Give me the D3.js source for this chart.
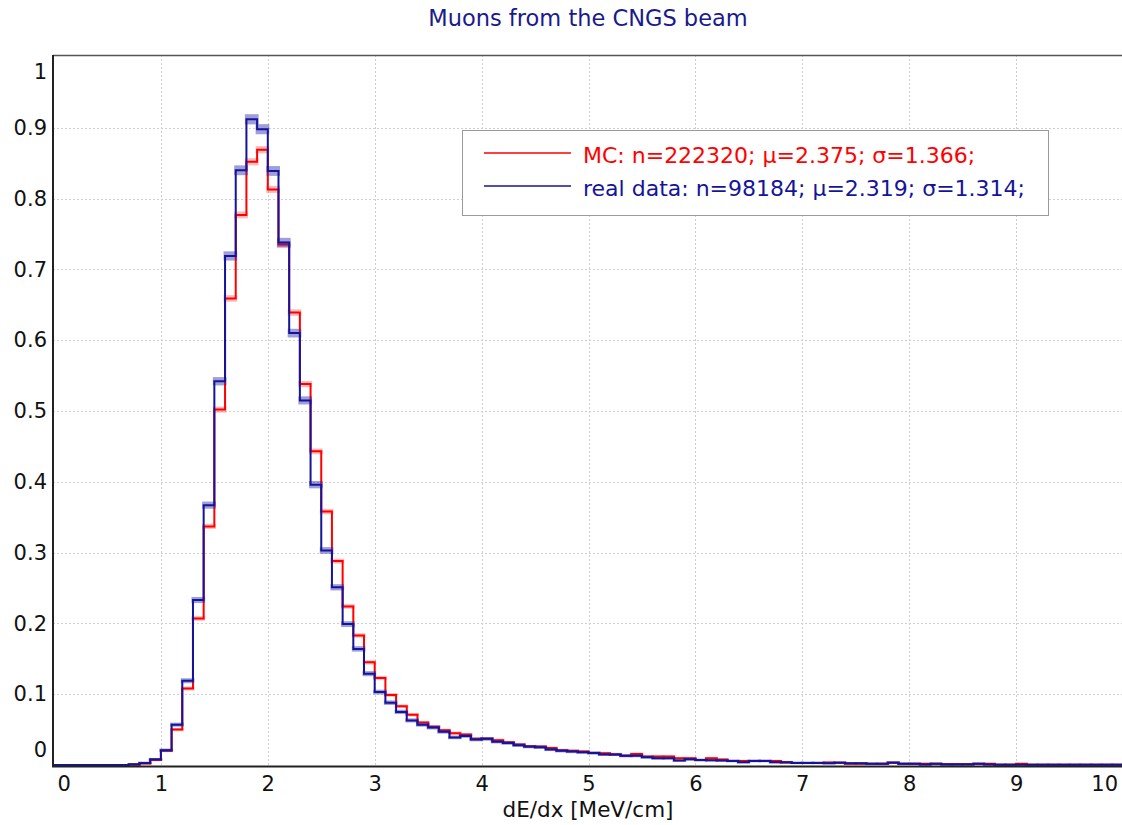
<!DOCTYPE html>
<html>
<head>
<meta charset="utf-8">
<script src="https://cdn.jsdelivr.net/npm/d3@7"></script>
<style>
  html, body { margin: 0; padding: 0; background: #fff; }
  svg { display: block; }
</style>
</head>
<body>
<svg id="chart" width="1122" height="825"></svg>
<script>
// dE/dx histogram, 100 bins of width 0.1 MeV/cm from 0 to 10
const binWidth = 0.1;
const binCount = 100;

// Monte Carlo sample (normalised bin contents)
const mcValues = [
  0, 0, 0, 0, 0, 0, 0, 0.0005, 0.002, 0.007,
  0.020, 0.050, 0.108, 0.207, 0.337, 0.502, 0.659, 0.777, 0.852, 0.869,
  0.813, 0.735, 0.639, 0.538, 0.443, 0.358, 0.288, 0.224, 0.183, 0.145,
  0.123, 0.099, 0.083, 0.071, 0.060, 0.054, 0.049, 0.045, 0.043, 0.037,
  0.037, 0.035, 0.032, 0.029, 0.026, 0.026, 0.024, 0.021, 0.020, 0.019,
  0.017, 0.0167, 0.015, 0.013, 0.0157, 0.012, 0.012, 0.012, 0.0096, 0.0096,
  0.007, 0.0096, 0.0077, 0.0058, 0.0058, 0.0058, 0.0058, 0.0058, 0.0035, 0.003,
  0.003, 0.003, 0.0035, 0.0033, 0.0016, 0.0016, 0.0016, 0.0016, 0.003, 0.0016,
  0.0016, 0.0016, 0.0016, 0.0013, 0.0013, 0.0013, 0.0016, 0.0016, 0.0005, 0.0005,
  0.0016, 0.0003, 0.0003, 0.0003, 0.0003, 0.0003, 0.0003, 0.0003, 0.0003, 0.0003
];

// Measured muons (normalised bin contents)
const dataValues = [
  0, 0, 0, 0, 0, 0, 0, 0.001, 0.003, 0.008,
  0.021, 0.057, 0.119, 0.233, 0.367, 0.542, 0.719, 0.840, 0.912, 0.898,
  0.839, 0.738, 0.610, 0.515, 0.396, 0.303, 0.251, 0.199, 0.164, 0.129,
  0.103, 0.088, 0.075, 0.063, 0.057, 0.053, 0.047, 0.039, 0.041, 0.036,
  0.037, 0.033, 0.031, 0.028, 0.026, 0.025, 0.022, 0.020, 0.019, 0.018,
  0.017, 0.015, 0.015, 0.013, 0.013, 0.011, 0.0096, 0.0096, 0.0062, 0.008,
  0.007, 0.0067, 0.0063, 0.0058, 0.004, 0.0058, 0.0058, 0.004, 0.004, 0.003,
  0.003, 0.003, 0.0026, 0.0033, 0.0025, 0.0025, 0.0016, 0.0016, 0.0035, 0.0016,
  0.0016, 0.0007, 0.0016, 0.0007, 0.0007, 0.0007, 0.0016, 0.0007, 0.0005, 0.0005,
  0.0005, 0.0004, 0.0004, 0.0004, 0.0004, 0.0004, 0.0004, 0.0004, 0.0004, 0.0004
];

// entries per sample, used for the statistical error bands
const mcEntries = 222320;
const dataEntries = 98184;
const entryScale = 0.28;

const xTicks = [0, 1, 2, 3, 4, 5, 6, 7, 8, 9, 10];
const yTicks = [0, 0.1, 0.2, 0.3, 0.4, 0.5, 0.6, 0.7, 0.8, 0.9, 1];
const yTickLabels = ["0", "0.1", "0.2", "0.3", "0.4", "0.5", "0.6", "0.7", "0.8", "0.9", "1"];

const titleText = "Muons from the CNGS beam";
const xLabel = "dE/dx [MeV/cm]";
const legendItems = [
  { text: "MC: n=222320; μ=2.375; σ=1.366;", color: "#ff0000" },
  { text: "real data: n=98184; μ=2.319; σ=1.314;", color: "#14149a" }
];

const W = 1122, H = 825;
const plot = { left: 53, top: 55, right: 1122, bottom: 767 };
const FONT = "'DejaVu Sans', Verdana, sans-serif";

const svg = d3.select("#chart");
svg.append("rect").attr("width", W).attr("height", H).attr("fill", "#fff");

const x = d3.scaleLinear().domain([0, 10]).range([54, 1123]);
const y = d3.scaleLinear().domain([0, 1]).range([765, 57]);

// dotted grid
const grid = svg.append("g");
grid.selectAll("line.gx").data(xTicks.filter(d => d > 0 && d < 10)).join("line")
  .attr("x1", d => Math.round(x(d)) + 0.5).attr("x2", d => Math.round(x(d)) + 0.5)
  .attr("y1", plot.top).attr("y2", plot.bottom)
  .attr("stroke", "#cfcfcf").attr("stroke-width", 1).attr("stroke-dasharray", "2,2");
grid.selectAll("line.gy").data(yTicks.filter(d => d > 0 && d < 1)).join("line")
  .attr("x1", plot.left).attr("x2", plot.right)
  .attr("y1", d => Math.round(y(d)) + 0.5).attr("y2", d => Math.round(y(d)) + 0.5)
  .attr("stroke", "#cfcfcf").attr("stroke-width", 1).attr("stroke-dasharray", "2,2");

svg.append("clipPath").attr("id", "plotClip").append("rect")
  .attr("x", plot.left).attr("y", plot.top)
  .attr("width", plot.right - plot.left).attr("height", plot.bottom - plot.top);

const bins = d3.range(binCount).map(i => i * binWidth);

function stepPath(values) {
  const pts = [[x(0), y(0)]];
  values.forEach((v, i) => {
    pts.push([x(bins[i]), y(v)]);
    pts.push([x(bins[i] + binWidth), y(v)]);
  });
  return d3.line()(pts);
}

function drawSeries(values, entries, lineColor, bandColor) {
  const g = svg.append("g").attr("clip-path", "url(#plotClip)");
  g.selectAll("rect").data(values.map((v, i) => ({ v, i })).filter(d => d.v > 0)).join("rect")
    .attr("x", d => x(bins[d.i]) - 1.5)
    .attr("width", d => x(bins[d.i] + binWidth) - x(bins[d.i]) + 3)
    .attr("y", d => {
      const e = Math.sqrt(d.v / (entries * entryScale));
      return y(d.v + e) - 1;
    })
    .attr("height", d => {
      const e = Math.sqrt(d.v / (entries * entryScale));
      return y(d.v - e) - y(d.v + e) + 2;
    })
    .attr("fill", bandColor);
  g.append("path").attr("d", stepPath(values))
    .attr("fill", "none").attr("stroke", lineColor).attr("stroke-width", 2)
    .attr("stroke-linejoin", "miter");
}

drawSeries(mcValues, mcEntries, "#ff0000", "rgba(255,60,60,0.35)");
drawSeries(dataValues, dataEntries, "#14149a", "rgba(40,40,170,0.45)");

// frame
svg.append("line").attr("x1", plot.left).attr("x2", plot.right)
  .attr("y1", plot.top + 0.5).attr("y2", plot.top + 0.5)
  .attr("stroke", "#555").attr("stroke-width", 1.5);
svg.append("line").attr("x1", plot.left).attr("x2", plot.left)
  .attr("y1", plot.top).attr("y2", plot.bottom)
  .attr("stroke", "#222").attr("stroke-width", 2);
svg.append("line").attr("x1", plot.left - 1).attr("x2", plot.right)
  .attr("y1", plot.bottom - 0.5).attr("y2", plot.bottom - 0.5)
  .attr("stroke", "#222").attr("stroke-width", 2);

// axes (labels only)
const xAxis = svg.append("g").attr("transform", `translate(0,${plot.bottom})`)
  .call(d3.axisBottom(x).tickValues(xTicks).tickSize(0).tickPadding(9).tickFormat(d3.format("d")));
xAxis.select(".domain").remove();
xAxis.selectAll("text").attr("font-family", FONT).attr("font-size", 21).attr("fill", "#111");
xAxis.selectAll(".tick").filter(d => d === 0).select("text").attr("text-anchor", "start").attr("dx", 3);
xAxis.selectAll(".tick").filter(d => d === 10).select("text").attr("text-anchor", "end").attr("x", -3);
xAxis.selectAll(".tick").filter(d => d === 10).attr("transform", `translate(${W - 1},0)`);

const yAxis = svg.append("g").attr("transform", `translate(${plot.left},0)`)
  .call(d3.axisLeft(y).tickValues(yTicks).tickSize(0).tickPadding(6)
    .tickFormat((d, i) => yTickLabels[i]));
yAxis.select(".domain").remove();
yAxis.selectAll("text").attr("font-family", FONT).attr("font-size", 21).attr("fill", "#111");
yAxis.selectAll(".tick").filter(d => d === 1).select("text").attr("dy", "1.0em");
yAxis.selectAll(".tick").filter(d => d === 0).select("text").attr("dy", "-0.4em");

// title and axis label
svg.append("text").attr("x", 588).attr("y", 26).attr("text-anchor", "middle")
  .attr("font-family", FONT).attr("font-size", 22.5).attr("fill", "#1a1a8c").text(titleText);
svg.append("text").attr("x", 588).attr("y", 817).attr("text-anchor", "middle")
  .attr("font-family", FONT).attr("font-size", 21.5).attr("fill", "#111").text(xLabel);

// legend
const legend = svg.append("g");
legend.append("rect").attr("x", 462.5).attr("y", 130.5).attr("width", 586).attr("height", 85)
  .attr("fill", "#fff").attr("stroke", "#9a9a9a").attr("stroke-width", 1);
legendItems.forEach((item, i) => {
  const ly = 153 + i * 33;
  legend.append("line").attr("x1", 484).attr("x2", 571).attr("y1", ly).attr("y2", ly)
    .attr("stroke", item.color).attr("stroke-width", 1.5);
  legend.append("text").attr("x", 583).attr("y", ly + 10)
    .attr("font-family", FONT).attr("font-size", 22).attr("fill", item.color).text(item.text);
});
</script>
</body>
</html>
